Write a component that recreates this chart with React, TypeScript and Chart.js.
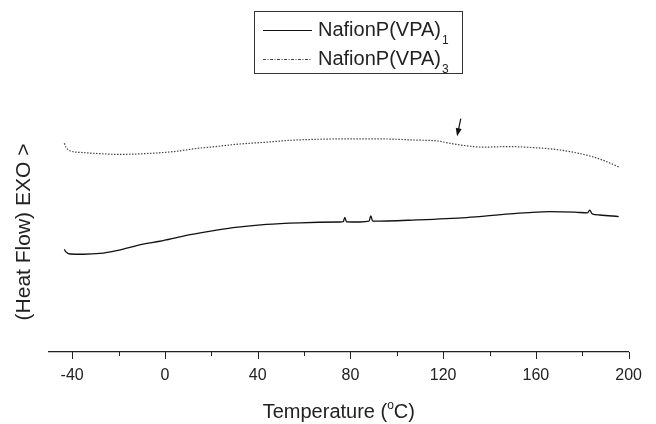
import { useEffect, useRef } from "react";
import { Chart, registerables } from "chart.js";
Chart.register(...registerables);

// Temperature (°C) and heat flow (arbitrary units) – NafionP(VPA)1
const temp1 = [-43.4, -42.7, -40.9, -35.2, -28.0, -20.8, -9.4, -2.2, 7.9, 19.1, 29.4, 43.8, 58.2, 75.4, 76.9, 77.6, 78.3, 84.1, 88.0, 88.8, 89.6, 108.5, 130.0, 148.7, 165.9, 176.7, 182.3, 183.2, 184.3, 187.5, 195.7];
const flow1 = [39.5, 38.5, 37.7, 37.6, 37.9, 39.0, 41.5, 42.6, 44.6, 46.4, 47.8, 49.1, 49.7, 50.0, 50.1, 51.8, 50.1, 50.0, 50.3, 52.3, 50.3, 50.8, 51.7, 53.1, 54.0, 53.8, 53.5, 54.6, 53.1, 52.7, 52.1];

// NafionP(VPA)3
const temp3 = [-43.4, -42.7, -40.9, -35.2, -28.0, -20.8, -6.5, 5.0, 13.7, 18.5, 32.3, 43.8, 53.9, 65.4, 82.6, 97.0, 108.5, 117.1, 122.8, 130.0, 137.2, 148.0, 157.3, 170.3, 183.2, 189.7, 195.7];
const flow3 = [80.3, 78.8, 77.4, 76.7, 76.3, 76.0, 76.4, 77.2, 78.3, 78.7, 80.0, 80.7, 81.4, 81.8, 82.0, 81.9, 81.5, 81.2, 80.3, 79.3, 78.8, 79.0, 78.7, 77.7, 75.4, 73.5, 71.2];

const seriesNames = ["NafionP(VPA)", "NafionP(VPA)"];
const seriesSubs = ["1", "3"];
const xTickValues = [-40, -20, 0, 20, 40, 60, 80, 100, 120, 140, 160, 180, 200];
const xTickLabels = [-40, 0, 40, 80, 120, 160, 200];
const xTitle = ["Temperature (", "o", "C)"];
const yTitle = "(Heat Flow) EXO >";
// arrow annotation (temperature, from value, to value)
const arrowT = [127.6, 126.0];
const arrowV = [89.8, 83.0];

const FONT = "'Liberation Sans', Arial, Helvetica, sans-serif";

export default function App() {
  const ref = useRef<HTMLCanvasElement | null>(null);
  useEffect(() => {
    document.body.style.margin = "0";
    const canvas = ref.current!;
    const deco = {
      id: "deco",
      afterDraw(chart: any) {
        const ctx = chart.ctx as CanvasRenderingContext2D;
        const xs = chart.scales.x;
        const ys = chart.scales.y;
        const area = chart.chartArea;
        ctx.save();
        // ticks
        ctx.strokeStyle = "#222";
        ctx.lineWidth = 1;
        for (const v of xTickValues) {
          const px = Math.round(xs.getPixelForValue(v)) + 0.5;
          const len = xTickLabels.includes(v) ? 7 : 4;
          ctx.beginPath();
          ctx.moveTo(px, area.bottom);
          ctx.lineTo(px, area.bottom + len);
          ctx.stroke();
        }
        // x title
        ctx.fillStyle = "#222";
        ctx.textBaseline = "alphabetic";
        const big = `20px ${FONT}`;
        const small = `12px ${FONT}`;
        ctx.font = big;
        const w0 = ctx.measureText(xTitle[0]).width;
        ctx.font = small;
        const w1 = ctx.measureText(xTitle[1]).width;
        ctx.font = big;
        const w2 = ctx.measureText(xTitle[2]).width;
        const cx = (area.left + area.right) / 2;
        let tx = cx - (w0 + w1 + w2) / 2;
        const ty = 418;
        ctx.textAlign = "left";
        ctx.fillText(xTitle[0], tx, ty);
        tx += w0;
        ctx.font = small;
        ctx.fillText(xTitle[1], tx, ty - 9);
        tx += w1;
        ctx.font = big;
        ctx.fillText(xTitle[2], tx, ty);
        // y title
        ctx.save();
        ctx.translate(30, 232);
        ctx.rotate(-Math.PI / 2);
        ctx.textAlign = "center";
        ctx.font = `21px ${FONT}`;
        ctx.fillText(yTitle, 0, 0);
        ctx.restore();
        // legend
        ctx.strokeStyle = "#333";
        ctx.lineWidth = 1;
        ctx.strokeRect(254.5, 11.5, 208, 62);
        const rows = [30, 59];
        for (let i = 0; i < 2; i++) {
          const y = rows[i];
          ctx.beginPath();
          ctx.lineWidth = 1.2;
          ctx.strokeStyle = i === 0 ? "#111" : "#444";
          ctx.setLineDash(i === 0 ? [] : [3, 1.5, 1, 1.5]);
          ctx.moveTo(263, y + 0.5);
          ctx.lineTo(312, y + 0.5);
          ctx.stroke();
          ctx.setLineDash([]);
          ctx.font = big;
          ctx.fillStyle = "#222";
          ctx.textAlign = "left";
          ctx.textBaseline = "middle";
          ctx.fillText(seriesNames[i], 318, y);
          const nw = ctx.measureText(seriesNames[i]).width;
          ctx.font = small;
          ctx.fillText(seriesSubs[i], 318 + nw + 1, y + 11);
        }
        // arrow
        const ax0 = xs.getPixelForValue(arrowT[0]);
        const ay0 = ys.getPixelForValue(arrowV[0]);
        const ax1 = xs.getPixelForValue(arrowT[1]);
        const ay1 = ys.getPixelForValue(arrowV[1]);
        const ang = Math.atan2(ay1 - ay0, ax1 - ax0);
        ctx.strokeStyle = "#111";
        ctx.fillStyle = "#111";
        ctx.lineWidth = 1.2;
        ctx.beginPath();
        ctx.moveTo(ax0, ay0);
        ctx.lineTo(ax1 - 6 * Math.cos(ang), ay1 - 6 * Math.sin(ang));
        ctx.stroke();
        const hl = 8, hw = 3;
        const bx = ax1 - hl * Math.cos(ang), by = ay1 - hl * Math.sin(ang);
        ctx.beginPath();
        ctx.moveTo(ax1, ay1);
        ctx.lineTo(bx + hw * Math.sin(ang), by - hw * Math.cos(ang));
        ctx.lineTo(bx - hw * Math.sin(ang), by + hw * Math.cos(ang));
        ctx.closePath();
        ctx.fill();
        ctx.restore();
      },
    };
    const chart = new Chart(canvas, {
      type: "line",
      data: {
        datasets: [
          {
            label: seriesNames[0] + seriesSubs[0],
            data: temp1.map((t, i) => ({ x: t, y: flow1[i] })),
            borderColor: "#111",
            borderWidth: 1.3,
            pointRadius: 0,
            cubicInterpolationMode: "monotone",
            fill: false,
          },
          {
            label: seriesNames[1] + seriesSubs[1],
            data: temp3.map((t, i) => ({ x: t, y: flow3[i] })),
            borderColor: "#444",
            borderWidth: 1.2,
            borderDash: [1.5, 1.5],
            pointRadius: 0,
            cubicInterpolationMode: "monotone",
            fill: false,
          },
        ],
      },
      options: {
        responsive: false,
        animation: false,
        devicePixelRatio: 1,
        layout: { padding: { left: 49, right: 26, top: 92, bottom: 0 } },
        plugins: { legend: { display: false }, tooltip: { enabled: false }, title: { display: false } },
        scales: {
          x: {
            type: "linear",
            min: -50,
            max: 200,
            afterBuildTicks: (s: any) => {
              s.ticks = xTickValues.map((v) => ({ value: v }));
            },
            afterFit: (s: any) => {
              s.height = 72;
            },
            grid: { display: false, drawTicks: false },
            border: { display: true, color: "#222", width: 1.2 },
            ticks: {
              autoSkip: false,
              maxRotation: 0,
              padding: 14,
              color: "#222",
              font: { family: FONT, size: 16 },
              callback: (v: any) => (xTickLabels.includes(Number(v)) ? String(v) : ""),
            },
          },
          y: { display: false, min: 0, max: 100 },
        },
      },
      plugins: [deco],
    } as any);
    return () => chart.destroy();
  }, []);
  return (
    <div style={{ width: 656, height: 424 }}>
      <canvas ref={ref} width={656} height={424} style={{ display: "block" }} />
    </div>
  );
}
